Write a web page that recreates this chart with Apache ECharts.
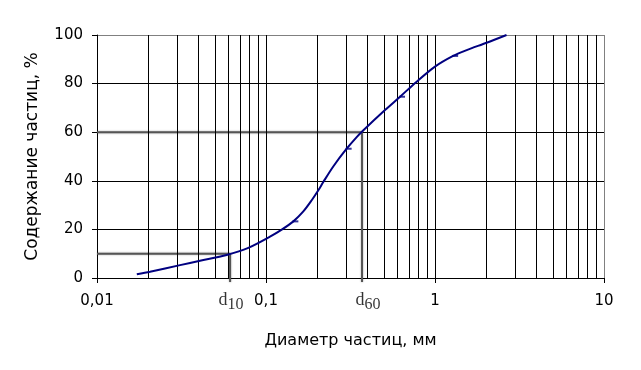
<!DOCTYPE html>
<html>
<head>
<meta charset="utf-8">
<script src="https://cdn.jsdelivr.net/npm/echarts@6/dist/echarts.min.js"></script>
<style>html,body{margin:0;padding:0;background:#fff}#c{width:641px;height:370px}</style>
</head>
<body>
<div id="c"></div>
<script>
// Curve (diameter mm, cumulative %)
const curveX = [0.0172, 0.0206, 0.031, 0.0407, 0.0585, 0.0786, 0.1056, 0.1239, 0.1452, 0.1663, 0.1864, 0.204, 0.2183, 0.25, 0.3, 0.344, 0.377, 0.506, 0.621, 0.779, 1.0, 1.28, 1.54, 2.02, 2.65];
const curveY = [1.5, 2.6, 5.3, 7.1, 9.5, 12.4, 17.0, 19.9, 23.3, 27.4, 32.0, 36.1, 39.5, 45.9, 53.2, 58.0, 60.8, 69.1, 74.6, 80.8, 87, 91.4, 93.8, 96.8, 100];
// Marker points
const markX = [0.1452, 0.3, 0.621, 1.28];
const markY = [23.3, 53.2, 74.6, 91.4];
// Characteristic diameters
const d10 = 0.0613, d60 = 0.37;
// Axis ticks
const xTicks = [0.01, 0.1, 1, 10];
const yTicks = [0, 20, 40, 60, 80, 100];
const minorGridX = [0.02,0.03,0.04,0.05,0.06,0.07,0.08,0.09,0.1,0.2,0.3,0.4,0.5,0.6,0.7,0.8,0.9,1,2,3,4,5,6,7,8,9];

const FONT = 'DejaVu Sans';
const chart = echarts.init(document.getElementById('c'));
chart.setOption({
  animation: false,
  backgroundColor: '#fff',
  grid: {left: 97, right: 37, top: 35, bottom: 92},
  xAxis: {
    type: 'log', logBase: 10, min: xTicks[0], max: xTicks[xTicks.length-1],
    name: 'Диаметр частиц, мм', nameLocation: 'middle', nameGap: 55,
    nameTextStyle: {fontFamily: FONT, fontSize: 16, color: '#000'},
    axisLine: {lineStyle: {color: '#000', width: 1}},
    axisTick: {show: true, length: 5, lineStyle: {color: '#000'}},
    axisLabel: {fontFamily: FONT, fontSize: 15, color: '#000', margin: 16,
      formatter: v => String(+(+v).toPrecision(3)).replace('.', ',')},
    splitLine: {show: false}
  },
  yAxis: {
    type: 'value', min: yTicks[0], max: yTicks[yTicks.length-1], interval: 20,
    name: 'Содержание частиц, %', nameLocation: 'middle', nameGap: 56,
    nameTextStyle: {fontFamily: FONT, fontSize: 17, color: '#000'},
    axisLine: {show: true, lineStyle: {color: '#000', width: 1}},
    axisTick: {show: true, length: 5, lineStyle: {color: '#000'}},
    axisLabel: {fontFamily: FONT, fontSize: 15, color: '#000', margin: 14},
    splitLine: {show: true, lineStyle: {color: ['#000','#000','#000','#000','#000','#808080'], width: 1}}
  },
  series: [
    {
      type: 'line', data: [], silent: true, z: 1,
      markLine: {
        silent: true, symbol: 'none', label: {show: false}, animation: false,
        lineStyle: {color: '#000', width: 1, type: 'solid'},
        data: minorGridX.map(v => ({xAxis: v})).concat([{xAxis: xTicks[xTicks.length-1], lineStyle: {color: '#808080', width: 1, type: 'solid'}}])
      }
    },
    {
      type: 'line', z: 2, clip: false, symbol: 'none', silent: true,
      lineStyle: {color: '#555', width: 2, shadowColor: 'rgba(0,0,0,0.35)', shadowBlur: 2},
      data: [[xTicks[0], 10], [d10, 10], [d10, -1.6]]
    },
    {
      type: 'line', z: 2, clip: false, symbol: 'none', silent: true,
      lineStyle: {color: '#555', width: 2, shadowColor: 'rgba(0,0,0,0.35)', shadowBlur: 2},
      data: [[xTicks[0], 60], [d60, 60], [d60, -1.6]]
    },
    {
      type: 'line', z: 5, smooth: 0.3, symbol: 'none', silent: true,
      lineStyle: {color: '#000080', width: 2},
      data: curveX.map((x, i) => [x, curveY[i]])
    },
    {
      type: 'scatter', z: 6, symbol: 'rect', symbolSize: [6, 2], symbolOffset: [2, 0], silent: true,
      itemStyle: {color: '#000080'},
      data: markX.map((x, i) => [x, markY[i]])
    },
    {
      type: 'scatter', z: 6, symbolSize: 0, clip: false, silent: true,
      data: [
        {value: [d10, 0], label: {formatter: '{a|d}{b|10}', offset: [1, 8]}},
        {value: [d60, 0], label: {formatter: '{a|d}{b|60}', offset: [6, 8]}}
      ],
      label: {
        show: true, position: 'bottom', color: '#000',
        rich: {
          a: {fontFamily: 'Liberation Serif', fontSize: 18, color: '#000', lineHeight: 22, verticalAlign: 'top'},
          b: {fontFamily: 'Liberation Serif', fontSize: 16, color: '#000', lineHeight: 17, verticalAlign: 'bottom'}
        }
      }
    }
  ]
});
</script>
</body>
</html>
